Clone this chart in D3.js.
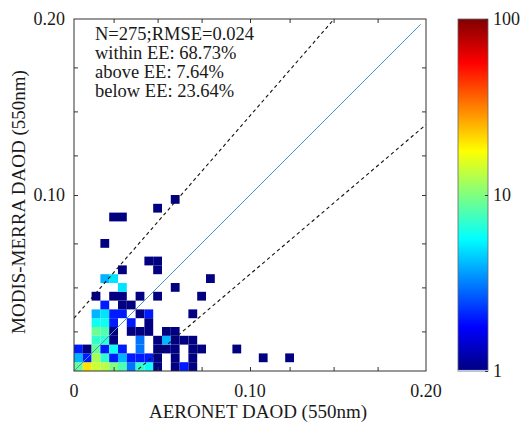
<!DOCTYPE html>
<html><head><meta charset="utf-8">
<script src="https://cdn.jsdelivr.net/npm/d3@7"></script>
<style>
body{margin:0;background:#fff;}
svg{display:block;}
text{font-family:"Liberation Serif","Times New Roman",serif;fill:#1a1a1a;}
</style>
</head><body>
<svg id="c" width="521" height="423"></svg>
<script>
// ---- data ----
const binWidth = 0.005;              // DAOD bin size on both axes
// counts per 2D bin: countsByRow[merraBin][aeronetBin]
const countsByRow = [
  [9,20,14,13,10,8,3,7,6,1,0,1,2,1],
  [4,2,12,7,2,4,2,2,2,1,0,1,0,1,0,0,0,0,0,0,0,1,0,0,1],
  [2,1,9,2,6,2,0,3,0,1,1,1,0,1,1,0,0,0,1],
  [0,0,7,7,1,0,0,3,0,1,4,1,1,1],
  [0,0,9,8,1,0,1,1,1,0,1,1],
  [0,0,6,6,2,0,2,0,1],
  [0,0,4,5,2,2,0,1,2,0,0,0,0,1],
  [0,0,0,2,0,1,1],
  [0,0,1,0,1,1,0,1,0,1,0,0,0,0,1],
  [0,0,0,0,0,5,0,0,0,0,0,1],
  [0,0,0,4,5,0,0,0,0,0,0,0,0,0,0,1],
  [0,0,0,0,0,1,0,0,0,1],
  [0,0,0,0,0,0,0,0,1,1],
  [],
  [0,0,0,1],
  [],
  [],
  [0,0,0,0,1,1],
  [0,0,0,0,0,0,0,0,0,1],
  [0,0,0,0,0,0,0,0,0,0,0,1]
];
const axisDomain = [0, 0.2];
const minorTicks = [0.0225, 0.0475, 0.0725, 0.1, 0.1225, 0.1475, 0.1725];
const xTickValues = [0, 0.1, 0.2];
const xTickLabels = ["0", "0.10", "0.20"];
const yTickValues = [0.1, 0.2];
const yTickLabels = ["0.10", "0.20"];
const eeIntercept = 0.03, eeSlope = 0.15;   // EE = ±(0.03 + 0.15·AOD)
const oneToOneEnd = 0.197;
const statsLines = ["N=275;RMSE=0.024", "within EE: 68.73%", "above EE: 7.64%", "below EE: 23.64%"];
const cbTicks = [1, 10, 100];
const cbLabels = ["1", "10", "100"];
const xTitle = "AERONET DAOD (550nm)";
const yTitle = "MODIS-MERRA DAOD (550nm)";

// ---- layout ----
const svg = d3.select("#c");
const L = 74, R = 426, T = 19, B = 371;
const x = d3.scaleLinear().domain(axisDomain).range([L, R]);
const y = d3.scaleLinear().domain(axisDomain).range([B, T]);

function clamp(v){ return Math.max(0, Math.min(1, v)); }
function jet(t){
  const r = clamp(1.5 - Math.abs(4*t - 3));
  const g = clamp(1.5 - Math.abs(4*t - 2));
  const b = clamp(1.5 - Math.abs(4*t - 1));
  return d3.rgb(r*255, g*255, b*255).toString();
}
const cnorm = d3.scaleLog().domain([1, 100]).range([0, 1]).clamp(true);
const color = v => jet(cnorm(v));

// cells
const cells = [];
countsByRow.forEach((row, j) => row.forEach((c, i) => { if (c > 0) cells.push({i, j, c}); }));
svg.append("g").selectAll("rect").data(cells).join("rect")
  .attr("x", d => x(d.i * binWidth))
  .attr("y", d => y((d.j + 1) * binWidth))
  .attr("width", d => x((d.i + 1) * binWidth) - x(d.i * binWidth))
  .attr("height", d => y(d.j * binWidth) - y((d.j + 1) * binWidth))
  .attr("fill", d => color(d.c));

// clip for lines
svg.append("clipPath").attr("id", "pc").append("rect")
  .attr("x", L).attr("y", T).attr("width", R - L).attr("height", B - T);
const lg = svg.append("g").attr("clip-path", "url(#pc)");
const line = d3.line().x(d => x(d[0])).y(d => y(d[1]));
lg.append("path").datum([[0, 0], [oneToOneEnd, oneToOneEnd]])
  .attr("d", line).attr("stroke", "#4396cc").attr("stroke-width", 1).attr("fill", "none");
lg.append("path").datum([[0, eeIntercept], [0.2, eeIntercept + (1 + eeSlope) * 0.2]])
  .attr("d", line).attr("stroke", "#111").attr("stroke-width", 1.1)
  .attr("stroke-dasharray", "3.5,3").attr("fill", "none");
lg.append("path").datum([[0, -eeIntercept], [0.2, -eeIntercept + (1 - eeSlope) * 0.2]])
  .attr("d", line).attr("stroke", "#111").attr("stroke-width", 1.1)
  .attr("stroke-dasharray", "3.5,3").attr("fill", "none");

// ticks on all four sides (inward)
function tickAxis(axis, tx, ty){
  const g = svg.append("g").attr("transform", `translate(${tx},${ty})`)
    .call(axis.tickValues(minorTicks).tickSize(-4).tickFormat(""));
  g.select(".domain").remove();
  g.selectAll("line").attr("stroke", "#333");
}
tickAxis(d3.axisBottom(x), 0, B);
tickAxis(d3.axisTop(x), 0, T);
tickAxis(d3.axisLeft(y), L, 0);
tickAxis(d3.axisRight(y), R, 0);

// frame
svg.append("rect").attr("x", L).attr("y", T).attr("width", R - L).attr("height", B - T)
  .attr("fill", "none").attr("stroke", "#333").attr("stroke-width", 1);

// tick labels
svg.append("g").selectAll("text").data(xTickValues).join("text")
  .attr("x", d => x(d)).attr("y", B + 26).attr("text-anchor", "middle")
  .attr("font-size", 18).text((d, k) => xTickLabels[k]);
svg.append("g").selectAll("text").data(yTickValues).join("text")
  .attr("x", L - 9).attr("y", d => y(d) + 6).attr("text-anchor", "end")
  .attr("font-size", 18).text((d, k) => yTickLabels[k]);

// axis titles
svg.append("text").attr("x", 258).attr("y", 418).attr("text-anchor", "middle")
  .attr("font-size", 19).text(xTitle);
svg.append("text").attr("transform", "translate(25,202) rotate(-90)")
  .attr("text-anchor", "middle").attr("font-size", 19).text(yTitle);

// stats text
svg.append("g").selectAll("text").data(statsLines).join("text")
  .attr("x", 95).attr("y", (d, k) => 40 + k * 19)
  .attr("font-size", 18.5).text(d => d);

// colorbar
const cbX = 458, cbW = 30;
const cy = d3.scaleLog().domain([1, 100]).range([B, T]);
const grad = svg.append("defs").append("linearGradient").attr("id", "jetg")
  .attr("x1", 0).attr("y1", 1).attr("x2", 0).attr("y2", 0);
d3.range(0, 65).forEach(k => {
  const t = k / 64;
  grad.append("stop").attr("offset", t).attr("stop-color", jet(t));
});
svg.append("rect").attr("x", cbX).attr("y", T).attr("width", cbW).attr("height", B - T)
  .attr("fill", "url(#jetg)").attr("stroke", "#666").attr("stroke-width", 0.8);
svg.append("line").attr("x1", cbX).attr("x2", cbX + cbW).attr("y1", B - 0.5).attr("y2", B - 0.5)
  .attr("stroke", "#b8c4ec").attr("stroke-width", 1.2);
const cbAxis = svg.append("g").attr("transform", `translate(${cbX + cbW},0)`)
  .call(d3.axisRight(cy).tickValues(cbTicks).tickSize(-3).tickFormat(""));
cbAxis.select(".domain").remove();
cbAxis.selectAll("line").attr("stroke", "#333");
svg.append("g").selectAll("text").data(cbTicks).join("text")
  .attr("x", cbX + cbW + 5).attr("y", d => cy(d) + 6)
  .attr("font-size", 18).text((d, k) => cbLabels[k]);
</script>
</body></html>
